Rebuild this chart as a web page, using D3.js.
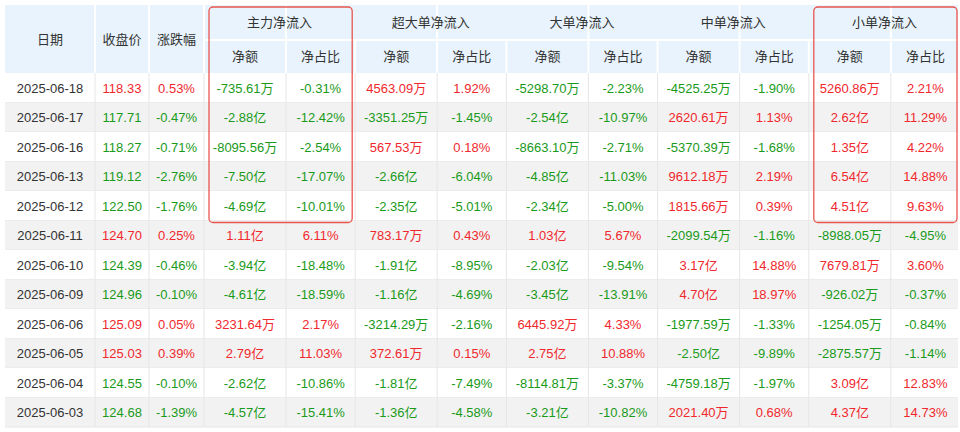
<!DOCTYPE html>
<html><head><meta charset="utf-8">
<script src="https://cdn.jsdelivr.net/npm/d3@7"></script>
<style>body{margin:0;background:#fff}</style></head>
<body><svg id="c" width="960" height="432"></svg>
<script>
const dates = ['2025-06-18','2025-06-17','2025-06-16','2025-06-13','2025-06-12','2025-06-11','2025-06-10','2025-06-09','2025-06-06','2025-06-05','2025-06-04','2025-06-03'];
const close = ['118.33','117.71','118.27','119.12','122.50','124.70','124.39','124.96','125.09','125.03','124.55','124.68'];
const change = ['0.53%','-0.47%','-0.71%','-2.76%','-1.76%','0.25%','-0.46%','-0.10%','0.05%','0.39%','-0.10%','-1.39%'];
const mainAmt = ['-735.61万','-2.88亿','-8095.56万','-7.50亿','-4.69亿','1.11亿','-3.94亿','-4.61亿','3231.64万','2.79亿','-2.62亿','-4.57亿'];
const mainPct = ['-0.31%','-12.42%','-2.54%','-17.07%','-10.01%','6.11%','-18.48%','-18.59%','2.17%','11.03%','-10.86%','-15.41%'];
const xlAmt = ['4563.09万','-3351.25万','567.53万','-2.66亿','-2.35亿','783.17万','-1.91亿','-1.16亿','-3214.29万','372.61万','-1.81亿','-1.36亿'];
const xlPct = ['1.92%','-1.45%','0.18%','-6.04%','-5.01%','0.43%','-8.95%','-4.69%','-2.16%','0.15%','-7.49%','-4.58%'];
const lgAmt = ['-5298.70万','-2.54亿','-8663.10万','-4.85亿','-2.34亿','1.03亿','-2.03亿','-3.45亿','6445.92万','2.75亿','-8114.81万','-3.21亿'];
const lgPct = ['-2.23%','-10.97%','-2.71%','-11.03%','-5.00%','5.67%','-9.54%','-13.91%','4.33%','10.88%','-3.37%','-10.82%'];
const mdAmt = ['-4525.25万','2620.61万','-5370.39万','9612.18万','1815.66万','-2099.54万','3.17亿','4.70亿','-1977.59万','-2.50亿','-4759.18万','2021.40万'];
const mdPct = ['-1.90%','1.13%','-1.68%','2.19%','0.39%','-1.16%','14.88%','18.97%','-1.33%','-9.89%','-1.97%','0.68%'];
const smAmt = ['5260.86万','2.62亿','1.35亿','6.54亿','4.51亿','-8988.05万','7679.81万','-926.02万','-1254.05万','-2875.57万','3.09亿','4.37亿'];
const smPct = ['2.21%','11.29%','4.22%','14.88%','9.63%','-4.95%','3.60%','-0.37%','-0.84%','-1.14%','12.83%','14.73%'];
const groups = ['主力净流入','超大单净流入','大单净流入','中单净流入','小单净流入'];
const subHeads = ['净额','净占比'];

const svg = d3.select('#c');
const font = '"Liberation Sans", Arial, "Noto Sans CJK SC", sans-serif';
const red = '#f0282d', green = '#1a9a1a';
// column edges
const edges = [5,95,149,204];
groups.forEach((g,i)=>{ const s = 204 + i*151.2; edges.push(s+82, s+151.2); });
const cols = [dates, close, change, mainAmt, mainPct, xlAmt, xlPct, lgAmt, lgPct, mdAmt, mdPct, smAmt, smPct];
const y = d3.scaleBand().domain(d3.range(dates.length)).range([73, 427]);

// header
svg.append('rect').attr('x',5).attr('y',5).attr('width',953).attr('height',68).attr('fill','#e8f3fd');
const hl = svg.append('g').attr('stroke','#fff').attr('stroke-width',2);
edges.slice(1,-1).forEach((e,i)=>{ const top = (i>=3 && i%2==0) ? 40 : 5; hl.append('line').attr('x1',e).attr('x2',e).attr('y1',top).attr('y2',73); });
hl.append('line').attr('x1',204).attr('x2',958).attr('y1',40).attr('y2',40);
const ht = svg.append('g').attr('font-family',font).attr('font-size',13).attr('fill','#333').attr('text-anchor','middle');
['日期','收盘价','涨跌幅'].forEach((t,i)=>ht.append('text').attr('x',(edges[i]+edges[i+1])/2).attr('y',44).text(t));
groups.forEach((g,i)=>{
  ht.append('text').attr('x',(edges[3+2*i]+edges[5+2*i])/2).attr('y',27).text(g);
  subHeads.forEach((s,j)=>ht.append('text').attr('x',(edges[3+2*i+j]+edges[4+2*i+j])/2).attr('y',61).text(s));
});

// body
dates.forEach((d,i)=>{
  svg.append('rect').attr('x',5).attr('y',y(i)).attr('width',953).attr('height',y.bandwidth())
    .attr('fill', i%2 ? '#f2f2f2' : '#fff');
  svg.append('line').attr('x1',5).attr('x2',958).attr('y1',y(i)+y.bandwidth()).attr('y2',y(i)+y.bandwidth()).attr('stroke','#e6e6e6');
});
edges.slice(1,-1).forEach(e=>svg.append('line').attr('x1',e).attr('x2',e).attr('y1',73).attr('y2',427).attr('stroke','#e6e6e6'));
const sign = i => change[i].startsWith('-') ? green : red;
cols.forEach((col,c)=>{
  col.forEach((v,i)=>{
    let fill = '#333';
    if (c===1) fill = sign(i);
    else if (c>1) fill = v.startsWith('-') ? green : red;
    svg.append('text').attr('x',(edges[c]+edges[c+1])/2).attr('y',y(i)+y.bandwidth()/2+5)
      .attr('text-anchor','middle').attr('font-family',font).attr('font-size',13).attr('fill',fill).text(v);
  });
});
// highlight boxes
[[0],[4]].forEach(([g])=>{
  svg.append('rect').attr('x',edges[3+2*g]+5).attr('y',7).attr('width',edges[5+2*g]-edges[3+2*g]-8)
    .attr('height',y(5)-7+2).attr('rx',4).attr('fill','none').attr('stroke','#e8554e').attr('stroke-width',1.3);
});
</script></body></html>
